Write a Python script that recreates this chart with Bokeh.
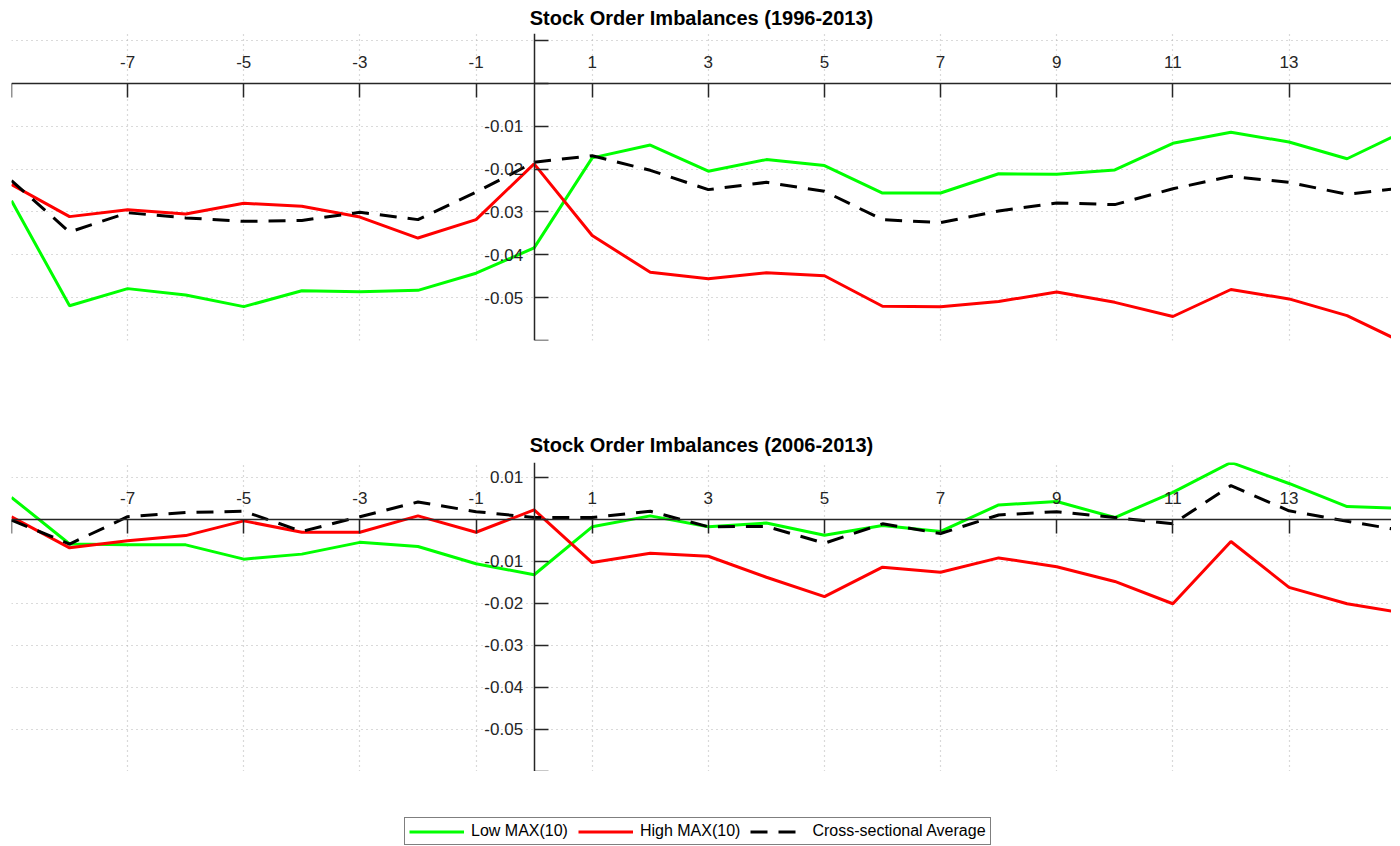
from bokeh.plotting import figure
from bokeh.layouts import column
from bokeh.models import FixedTicker, Legend, LegendItem, Range1d
from bokeh.embed import file_html
from bokeh.resources import INLINE

# ---- data -------------------------------------------------------------
days = list(range(-9, 16))

top_title = "Stock Order Imbalances (1996-2013)"
top_low = [-0.0274, -0.0519, -0.0479, -0.0494, -0.0521, -0.0484, -0.0486, -0.0483, -0.0443, -0.0384,
           -0.0174, -0.0144, -0.0205, -0.0178, -0.0192, -0.0256, -0.0256, -0.0211, -0.0212, -0.0202,
           -0.0140, -0.0114, -0.0137, -0.0176, -0.0111]
top_high = [-0.0236, -0.0311, -0.0295, -0.0305, -0.0280, -0.0287, -0.0312, -0.0361, -0.0318, -0.0188,
            -0.0355, -0.0441, -0.0456, -0.0442, -0.0449, -0.0520, -0.0521, -0.0509, -0.0487, -0.0511,
            -0.0544, -0.0481, -0.0503, -0.0542, -0.0607]
top_avg = [-0.0227, -0.0347, -0.0302, -0.0314, -0.0322, -0.0320, -0.0301, -0.0318, -0.0254, -0.0184,
           -0.0169, -0.0203, -0.0248, -0.0231, -0.0252, -0.0318, -0.0325, -0.0298, -0.0279, -0.0283,
           -0.0246, -0.0217, -0.0231, -0.0259, -0.0243]

bottom_title = "Stock Order Imbalances (2006-2013)"
bottom_low = [0.0052, -0.0059, -0.0061, -0.0061, -0.0095, -0.0083, -0.0055, -0.0065, -0.0106, -0.0132,
              -0.0018, 0.0008, -0.0018, -0.0009, -0.0038, -0.0015, -0.0029, 0.0034, 0.0042, 0.0004,
              0.0064, 0.0135, 0.0085, 0.0030, 0.0026]
bottom_high = [0.0006, -0.0068, -0.0051, -0.0039, -0.0004, -0.0031, -0.0031, 0.0008, -0.0031, 0.0022,
               -0.0103, -0.0081, -0.0088, -0.0138, -0.0184, -0.0114, -0.0126, -0.0092, -0.0113, -0.0148,
               -0.0201, -0.0053, -0.0162, -0.0201, -0.0224]
bottom_avg = [-0.0002, -0.0059, 0.0006, 0.0016, 0.0019, -0.0029, 0.0006, 0.0041, 0.0018, 0.0004,
              0.0004, 0.0019, -0.0018, -0.0017, -0.0057, -0.0011, -0.0034, 0.0010, 0.0018, 0.0004,
              -0.0011, 0.0080, 0.0020, -0.0005, -0.0028]

series_labels = ["Low MAX(10)", "High MAX(10)", "Cross-sectional Average"]
series_colors = ["#00ff00", "#ff0000", "black"]
series_dashes = ["solid", "solid", "17 11"]

x_ticks = [-9, -7, -5, -3, -1, 1, 3, 5, 7, 9, 11, 13, 15]
x_tick_labels = ["", "-7", "-5", "-3", "-1", "1", "3", "5", "7", "9", "11", "13", "15"]
y_ticks = [-0.06, -0.05, -0.04, -0.03, -0.02, -0.01, 0.0, 0.01]
y_tick_labels_top = ["", "-0.05", "-0.04", "-0.03", "-0.02", "-0.01", "", ""]
y_tick_labels_bottom = ["", "-0.05", "-0.04", "-0.03", "-0.02", "-0.01", "", "0.01"]

FONT = "Liberation Sans"
AX = "#262626"
FRAME_W = 1380
LEFT = 11


def make_panel(title, ymax, series, frame_h, b_top, b_bottom, ylabels, t_standoff):
    p = figure(frame_width=FRAME_W, frame_height=frame_h,
               x_range=Range1d(-9, 14.765), y_range=Range1d(-0.06, ymax),
               x_axis_location="above", y_axis_location="left",
               output_backend="svg", toolbar_location=None,
               min_border_left=LEFT, min_border_right=0,
               min_border_top=b_top, min_border_bottom=b_bottom,
               title=title)
    p.outline_line_color = None
    p.background_fill_color = "white"
    p.border_fill_color = "white"
    p.title.align = "center"
    p.title.text_font = FONT
    p.title.text_font_size = "20px"
    p.title.text_font_style = "bold"
    p.title.text_color = "black"
    p.title.standoff = t_standoff

    xa = p.xaxis[0]
    xa.fixed_location = 0
    xa.ticker = FixedTicker(ticks=x_ticks)
    xa.major_label_overrides = dict(zip(x_ticks, x_tick_labels))
    ya = p.yaxis[0]
    ya.fixed_location = 0
    ya.ticker = FixedTicker(ticks=y_ticks)
    ya.major_label_overrides = dict(zip(y_ticks, ylabels))
    for ax, so in ((xa, 15), (ya, 11)):
        ax.major_tick_in = 14
        ax.major_tick_out = 0
        ax.minor_tick_in = 0
        ax.minor_tick_out = 0
        ax.axis_line_color = AX
        ax.axis_line_width = 1.5
        ax.major_tick_line_color = AX
        ax.major_tick_line_width = 1.5
        ax.major_label_text_font = FONT
        ax.major_label_text_font_size = "17px"
        ax.major_label_text_color = AX
        ax.major_label_standoff = so

    p.xgrid.ticker = FixedTicker(ticks=x_ticks)
    p.ygrid.ticker = FixedTicker(ticks=y_ticks)
    for g in (p.xgrid, p.ygrid):
        g.grid_line_color = "#b4b4b4"
        g.grid_line_dash = "1 4"
        g.grid_line_width = 1.2

    for vals, col, dash in zip(series, series_colors, series_dashes):
        p.line(days, vals, line_color=col, line_width=3, line_dash=dash)
    return p


top = make_panel(top_title, 0.01162, [top_low, top_high, top_avg], 307, 28, 77,
                 y_tick_labels_top, 9)
bottom = make_panel(bottom_title, 0.01349, [bottom_low, bottom_high, bottom_avg], 309, 45, 0,
                    y_tick_labels_bottom, 14)

# legend strip below the panels: the series are drawn here outside the visible
# y range, so only their legend swatches show
leg = figure(frame_width=FRAME_W, frame_height=75, x_range=Range1d(-9, 14.765), y_range=Range1d(1, 2),
             x_axis_type=None, y_axis_type=None, output_backend="svg", toolbar_location=None,
             min_border_left=LEFT, min_border_right=0, min_border_top=0, min_border_bottom=0)
leg.outline_line_color = None
leg.grid.visible = False
leg_renderers = [leg.line(days, vals, line_color=c, line_width=3, line_dash=d)
                 for vals, c, d in zip([bottom_low, bottom_high, bottom_avg], series_colors, series_dashes)]
legend = Legend(items=[LegendItem(label=lab, renderers=[r]) for lab, r in zip(series_labels, leg_renderers)],
                location=(393, 1), orientation="horizontal",
                border_line_color="black", border_line_width=1,
                background_fill_color="white", background_fill_alpha=1,
                label_text_font=FONT, label_text_font_size="16px", label_text_color="black",
                glyph_width=55, glyph_height=17, label_height=17, label_standoff=7, spacing=10,
                padding=4, margin=0)
leg.add_layout(legend)

layout = column(top, bottom, leg, spacing=0)
open("out.html", "w").write(file_html(layout, INLINE))
